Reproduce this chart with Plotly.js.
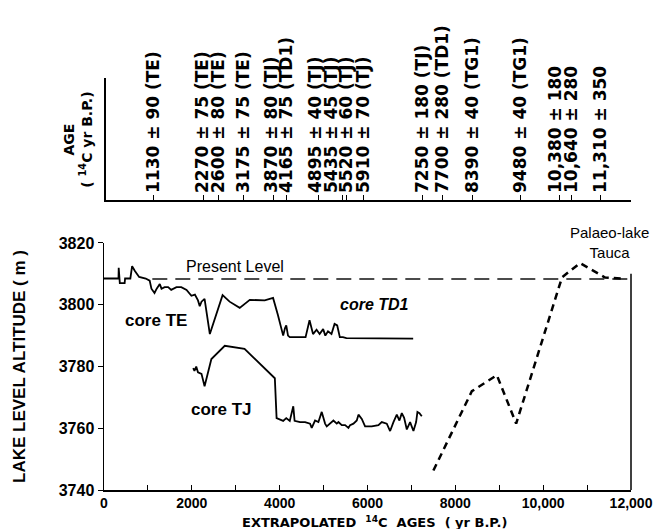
<!DOCTYPE html>
<html><head><meta charset="utf-8">
<script src="https://cdn.plot.ly/plotly-3.0.1.min.js"></script>
<style>body{margin:0;background:#fff}</style>
</head><body><div id="chart" style="width:661px;height:529px"></div>
<script>
// ---- data ----
const ageVals = [1130,2270,2600,3175,3870,4165,4895,5435,5520,5910,7250,7700,8390,9480,10380,10640,11310];
const ageLabels = ['1130 ± 90 (TE)','2270 ± 75 (TE)','2600 ± 80 (TE)','3175 ± 75 (TE)','3870 ± 80 (TJ)','4165 ± 75 (TD1)','4895 ± 40 (TJ)','5435 ± 45 (TJ)','5520 ± 60 (TJ)','5910 ± 70 (TJ)','7250 ± 180 (TJ)','7700 ± 280 (TD1)','8390 ± 40 (TG1)','9480 ± 40 (TG1)','10,380 ± 180','10,640 ± 280','11,310 ± 350'];

const coreTE_TD1_age = [0,330,335,350,360,470,480,600,640,700,800,950,1040,1080,1150,1200,1270,1310,1380,1460,1530,1650,1760,1880,1990,2070,2140,2180,2220,2290,2410,2700,2860,3090,3320,3660,3850,3960,4040,4080,4120,4150,4190,4230,4500,4590,4680,4760,4840,4910,4990,5040,5100,5180,5250,5310,5370,5440,5520,6770,7040];
const coreTE_TD1_alt = [3808.5,3808.5,3812,3808,3807,3807,3808.5,3808.5,3812.5,3811,3809,3808.5,3807.8,3805.2,3803.8,3805.2,3806.7,3805.2,3805.7,3805.7,3804.8,3805.7,3805.7,3804.8,3802.9,3803.3,3801.4,3799.5,3801,3801.9,3790.5,3803.1,3801,3799,3801.6,3801.4,3802.2,3796.7,3792.4,3790,3792.4,3793.3,3790,3789.5,3789.5,3789.5,3795,3790.5,3791.9,3790.5,3792.1,3790,3791.4,3790.5,3793.8,3793.3,3789.5,3789.5,3789.2,3789.2,3789];

const coreTJ_age = [2030,2060,2100,2140,2220,2290,2445,2750,3200,3890,3930,4000,4080,4150,4230,4310,4340,4465,4579,4692,4730,4806,4882,4958,5034,5072,5148,5224,5300,5338,5414,5490,5566,5604,5680,5756,5794,5870,5945,6097,6249,6325,6439,6515,6591,6667,6727,6781,6834,6895,6970,7046,7107,7137,7183,7236];
const coreTJ_alt = [3779.5,3778.6,3780,3778.1,3777.6,3773.6,3782.4,3786.7,3785.7,3776.2,3763.3,3762.9,3762.4,3763.3,3762.4,3767.1,3762.4,3762,3762,3761.5,3760.1,3762.5,3762,3765.3,3761.5,3760.6,3761.5,3762.5,3761.5,3762,3761,3761,3760.1,3761,3761.5,3762.5,3764.4,3763,3760.6,3760.6,3761,3762,3761.5,3759.1,3762,3764.4,3762.5,3764.9,3763.4,3759.6,3762,3759.1,3762,3765.3,3764.9,3763.9];

const tauca_age = [7500,8376,8945,9385,10430,10840,11410,11800];
const tauca_alt = [3746.3,3772,3777.2,3761.5,3808.9,3813.5,3808.8,3808.5];

const presentLevel_age = [1100,12000];
const presentLevel_alt = [3808.3,3808.3];

const xTickVals = [0,1000,2000,3000,4000,5000,6000,7000,8000,9000,10000,11000,12000];
const xTickText = ['0','','2000','','4000','','6000','','8000','','10,000','','12,000'];
const yTickVals = [3740,3760,3780,3800,3820];

// spread top labels so they do not overlap (right to left)
const minGap = 350;
const labelPos = ageVals.slice();
for (let i = labelPos.length - 2; i >= 0; i--) {
  labelPos[i] = Math.min(ageVals[i], labelPos[i+1] - minGap);
}

const FONT = 'Liberation Sans, Arial, sans-serif';
const WIDE = 'DejaVu Sans, Verdana, sans-serif';
const f = (s, extra) => Object.assign({family: FONT, size: s, color: '#000', weight: 'bold'}, extra || {});

const traces = [
  {x: presentLevel_age, y: presentLevel_alt, mode: 'lines', line: {color: '#111', width: 1.5, dash: '15px,8px'}, hoverinfo: 'skip'},
  {x: coreTE_TD1_age, y: coreTE_TD1_alt, mode: 'lines', line: {color: '#000', width: 1.8}},
  {x: coreTJ_age, y: coreTJ_alt, mode: 'lines', line: {color: '#000', width: 1.8}},
  {x: tauca_age, y: tauca_alt, mode: 'lines', line: {color: '#000', width: 2.5, dash: '7px,5px'}},
  {x: [], y: [], xaxis: 'x2', yaxis: 'y2'},
  {x: [], y: [], xaxis: 'x3', yaxis: 'y2'}
];

const topPos = 0.5918;
const layout = {
  width: 661, height: 529,
  margin: {l: 104, r: 30, t: 0, b: 39},
  paper_bgcolor: '#fff', plot_bgcolor: '#fff',
  showlegend: false,
  xaxis: {range: [0, 12000], showgrid: false, zeroline: false, showline: true, linecolor: '#000', linewidth: 1.5,
    tickmode: 'array', tickvals: xTickVals, ticktext: xTickText, ticks: 'inside', ticklen: 5, tickcolor: '#000',
    tickfont: f(14), anchor: 'y'},
  yaxis: {range: [3740, 3820], domain: [0, 0.5041], showgrid: false, zeroline: false, showline: true, linecolor: '#000', linewidth: 1.5,
    tickmode: 'array', tickvals: yTickVals, ticks: 'outside', ticklen: 5, tickcolor: '#000', tickfont: f(16),
    title: {text: 'LAKE LEVEL ALTITUDE ( m )', font: f(17), standoff: 28}},
  xaxis2: {range: [0, 12000], anchor: 'free', position: topPos, side: 'top', showgrid: false, zeroline: false,
    showline: true, linecolor: '#000', linewidth: 1.5, tickmode: 'array', tickvals: ageVals, ticks: 'outside', ticklen: 5,
    tickcolor: '#000', showticklabels: false},
  xaxis3: {range: [0, 12000], anchor: 'free', position: topPos, side: 'top', overlaying: 'x2', showgrid: false, zeroline: false,
    showline: false, tickmode: 'array', tickvals: labelPos, ticktext: ageLabels, ticks: '', tickangle: -90,
    tickfont: f(17, {family: WIDE}), ticklabelstandoff: 7},
  yaxis2: {domain: [topPos, 0.841], anchor: 'free', position: 0, showgrid: false, zeroline: false, showline: true,
    linecolor: '#000', linewidth: 1.5, showticklabels: false, ticks: '', range: [0, 1]},
  shapes: [
    {type: 'line', xref: 'paper', yref: 'y', x0: 1, x1: 1, y0: 3740, y1: 3810, line: {color: '#000', width: 1.5}}
  ],
  annotations: [
    {xref: 'paper', yref: 'paper', x: 0.514, y: -0.0643, text: 'EXTRAPOLATED  <sup>14</sup>C  AGES  ( yr B.P.)',
      showarrow: false, font: f(13, {family: WIDE}), xanchor: 'center', yanchor: 'middle'},
    {xref: 'paper', yref: 'paper', x: -0.05, y: 0.714, text: 'AGE<br>( <sup>14</sup>C yr B.P.)', textangle: -90,
      showarrow: false, font: f(14, {family: WIDE}), xanchor: 'center', yanchor: 'middle'},
    {xref: 'x', yref: 'y', x: 2985, y: 3812.4, text: 'Present Level', showarrow: false, font: f(16, {weight: 'normal'}), yanchor: 'middle'},
    {xref: 'x', yref: 'y', x: 1180, y: 3795, text: 'core TE', showarrow: false, font: f(17)},
    {xref: 'x', yref: 'y', x: 6150, y: 3800, text: 'core TD1', showarrow: false, font: f(16, {style: 'italic'})},
    {xref: 'x', yref: 'y', x: 2670, y: 3766, text: 'core TJ', showarrow: false, font: f(17)},
    {xref: 'x', yref: 'y', x: 11500, y: 3820, text: 'Palaeo-lake<br>Tauca', showarrow: false, font: f(15, {weight: 'normal'}), yanchor: 'middle'}
  ]
};

Plotly.newPlot('chart', traces, layout, {displayModeBar: false, staticPlot: true});
</script></body></html>
